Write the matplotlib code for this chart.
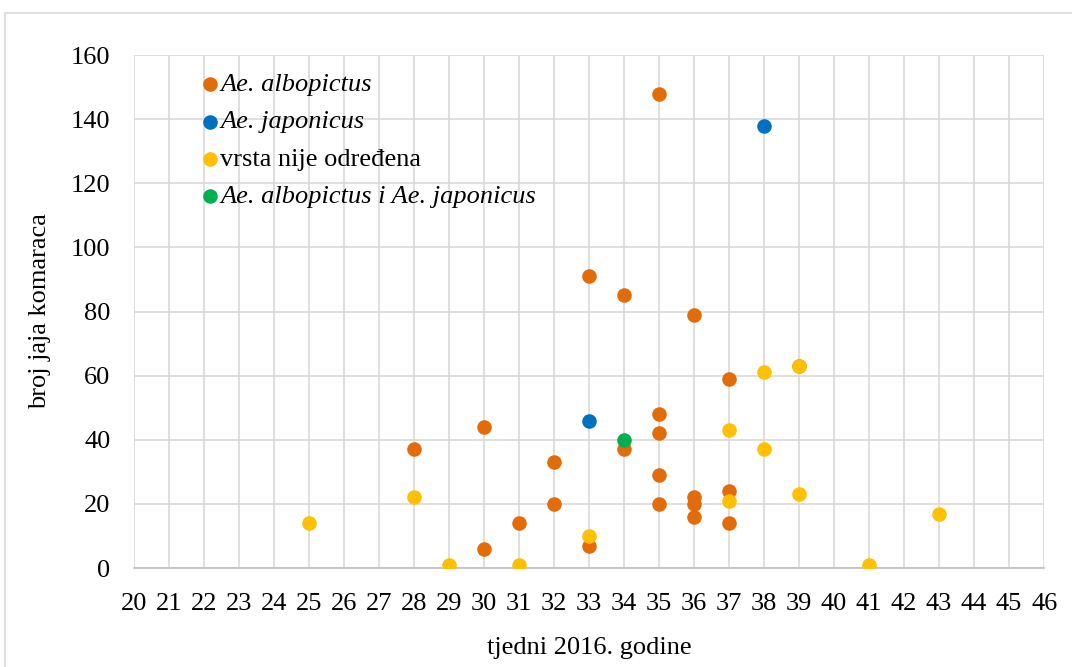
import matplotlib
matplotlib.use("Agg")
import matplotlib.pyplot as plt
from matplotlib.patches import Rectangle

plt.rcParams['font.family'] = ['Liberation Serif', 'DejaVu Serif']

# ── data (week, number of eggs) ──────────────────────────────────────────────
albo_week = [28, 30, 30, 31, 32, 32, 33, 33, 34, 34, 35, 35, 35, 35, 35,
             36, 36, 36, 36, 37, 37, 37, 39]
albo_eggs = [37, 44, 6, 14, 33, 20, 91, 7, 85, 37, 148, 48, 42, 29, 20,
             79, 22, 20, 16, 59, 24, 14, 63]

jap_week = [33, 38]
jap_eggs = [46, 138]

unk_week = [25, 28, 29, 31, 33, 37, 37, 38, 38, 39, 39, 41, 43]
unk_eggs = [14, 22, 1, 1, 10, 43, 21, 61, 37, 63, 23, 1, 17]

both_week = [34]
both_eggs = [40]

labels = ["Ae. albopictus", "Ae. japonicus", "vrsta nije određena",
          "Ae. albopictus i Ae. japonicus"]
colors = ["#e36c0a", "#0070c0", "#ffc000", "#00b050"]

weeks = list(range(20, 47))
yticks = list(range(0, 161, 20))

FS = 19

# ── plot ─────────────────────────────────────────────────────────────────────
fig = plt.figure(figsize=(10.72, 6.67), dpi=100)
ax = fig.add_axes([0.125, 0.1484, 0.849, 0.7691])

# outer chart border
fig.patches.append(Rectangle((5 / 1072, -0.1), 1.2, 1 - 13 / 667 + 0.1,
                             transform=fig.transFigure, fill=False,
                             edgecolor="#d9d9d9", lw=1.2))

series = [(albo_week, albo_eggs), (jap_week, jap_eggs),
          (unk_week, unk_eggs), (both_week, both_eggs)]
for (xs, ys), lab, col in zip(series, labels, colors):
    ax.scatter(xs, ys, s=110, color=col, label=lab, zorder=3, linewidths=0)

ax.set_xlim(20, 46)
ax.set_ylim(0, 160)
ax.set_xticks(weeks)
ax.set_yticks(yticks)
ax.grid(True, color="#d9d9d9", lw=1.2, zorder=0)
ax.set_axisbelow(True)
for s in ["top", "right", "left"]:
    ax.spines[s].set_visible(False)
ax.spines["bottom"].set_color("#bfbfbf")
ax.spines["bottom"].set_linewidth(1.2)
ax.tick_params(axis="both", length=0, labelsize=FS)
ax.tick_params(axis="x", pad=18)
ax.tick_params(axis="y", pad=17)

ax.set_xlabel("tjedni 2016. godine", fontsize=FS, labelpad=16)
ax.set_ylabel("broj jaja komaraca", fontsize=FS, labelpad=14)

leg = ax.legend(loc="upper left", bbox_to_anchor=(0.057, 0.986), frameon=False,
                fontsize=FS, handletextpad=-0.1, labelspacing=0.52,
                borderaxespad=0, handlelength=1.0, scatterpoints=1)
for i, t in enumerate(leg.get_texts()):
    if i != 2:
        t.set_style("italic")

fig.savefig("out.png", dpi=100)
